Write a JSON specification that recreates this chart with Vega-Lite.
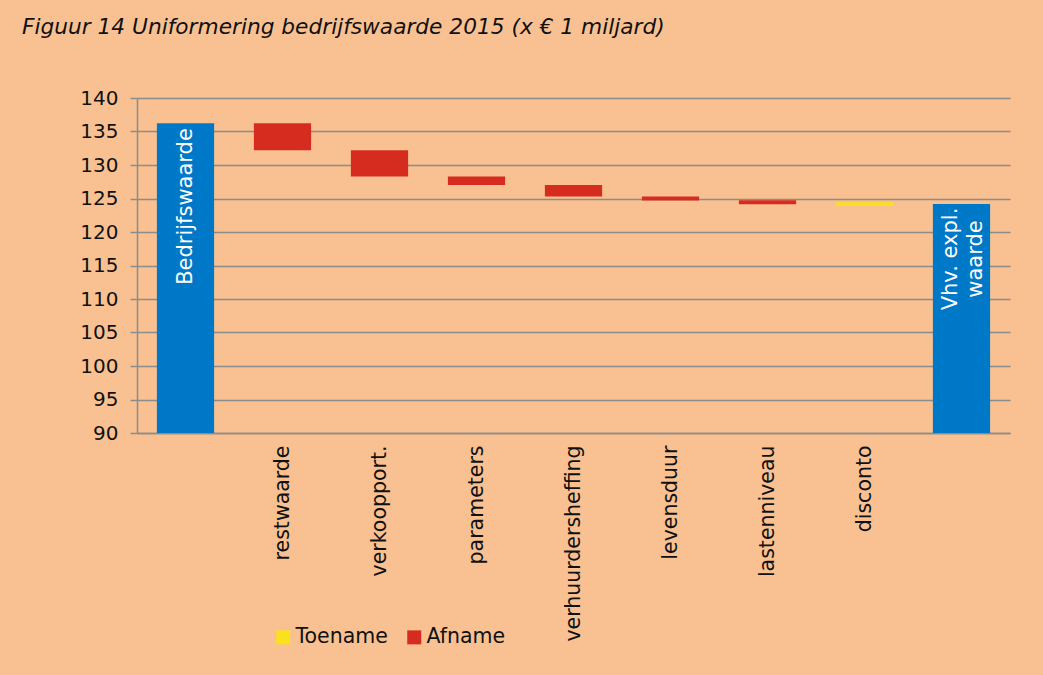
{
  "$schema": "https://vega.github.io/schema/vega-lite/v6.json",
  "width": 873,
  "height": 335,
  "autosize": {"type": "none"},
  "padding": {"left": 137, "top": 98, "right": 33, "bottom": 242},
  "background": "#F9C191",
  "title": {
    "text": "Figuur 14 Uniformering bedrijfswaarde 2015 (x € 1 miljard)",
    "anchor": "start",
    "frame": "group",
    "dx": -115,
    "offset": 32,
    "baseline": "alphabetic",
    "font": "DejaVu Sans",
    "fontSize": 21.7,
    "fontStyle": "italic",
    "fontWeight": "normal",
    "color": "#111111"
  },
  "config": {
    "view": {"stroke": null},
    "font": "DejaVu Sans",
    "axisY": {
      "title": null,
      "grid": true,
      "gridColor": "#8C8C8C",
      "gridWidth": 1.5,
      "domainColor": "#8C8C8C",
      "domainWidth": 1.5,
      "tickColor": "#8C8C8C",
      "tickWidth": 1.5,
      "tickSize": 7,
      "labelPadding": 12,
      "labelFont": "DejaVu Sans",
      "labelFontSize": 20,
      "labelColor": "#111111",
      "labelBaseline": "middle",
      "labelOverlap": false
    }
  },
  "data": {
    "values": [
      {"category": "Bedrijfswaarde", "label": "Bedrijfswaarde", "end": 136.25, "type": "total"},
      {"category": "restwaarde", "start": 136.25, "end": 132.2, "type": "Afname"},
      {"category": "verkoopport.", "start": 132.2, "end": 128.3, "type": "Afname"},
      {"category": "parameters", "start": 128.3, "end": 127.0, "type": "Afname"},
      {"category": "verhuurdersheffing", "start": 127.0, "end": 125.3, "type": "Afname"},
      {"category": "levensduur", "start": 125.3, "end": 124.72, "type": "Afname"},
      {"category": "lastenniveau", "start": 124.75, "end": 124.15, "type": "Afname"},
      {"category": "disconto", "start": 123.92, "end": 124.45, "type": "Toename"},
      {"category": "Vhv. expl. waarde", "label": "Vhv. expl.\nwaarde", "end": 124.18, "type": "total"}
    ]
  },
  "encoding": {
    "x": {
      "field": "category",
      "type": "nominal",
      "sort": ["Bedrijfswaarde", "restwaarde", "verkoopport.", "parameters", "verhuurdersheffing", "levensduur", "lastenniveau", "disconto", "Vhv. expl. waarde"],
      "scale": {"paddingInner": 0.41, "paddingOuter": 0.205},
      "axis": {
        "title": null,
        "labelAngle": -90,
        "labelAlign": "right",
        "labelBaseline": "middle",
        "ticks": false,
        "tickSize": 0,
        "labelPadding": 12,
        "domainColor": "#8C8C8C",
        "domainWidth": 1.5,
        "labelFont": "DejaVu Sans",
        "labelFontSize": 20.5,
        "labelColor": "#111111",
        "labelLimit": 300,
        "grid": false,
        "labelExpr": "datum.label == 'Bedrijfswaarde' || datum.label == 'Vhv. expl. waarde' ? '' : datum.label"
      }
    }
  },
  "layer": [
    {
      "transform": [{"filter": "datum.type == 'total'"}],
      "mark": {"type": "bar", "color": "#0078C8"},
      "encoding": {
        "y": {
          "field": "end",
          "type": "quantitative",
          "scale": {"domain": [90, 140], "nice": false, "zero": false},
          "axis": {"values": [90, 95, 100, 105, 110, 115, 120, 125, 130, 135, 140]}
        },
        "y2": {"datum": 90}
      }
    },
    {
      "transform": [{"filter": "datum.type != 'total'"}],
      "mark": {"type": "bar"},
      "encoding": {
        "y": {
          "field": "start",
          "type": "quantitative",
          "axis": {"values": [90, 95, 100, 105, 110, 115, 120, 125, 130, 135, 140]}
        },
        "y2": {"field": "end"},
        "color": {
          "field": "type",
          "type": "nominal",
          "scale": {"domain": ["Toename", "Afname"], "range": ["#F9E11E", "#D62B1F"]},
          "legend": {
            "title": null,
            "orient": "none",
            "legendX": 136,
            "legendY": 529,
            "direction": "horizontal",
            "columns": 2,
            "symbolType": "square",
            "symbolSize": 196,
            "symbolStrokeWidth": 0,
            "labelFont": "DejaVu Sans",
            "labelFontSize": 20.5,
            "labelColor": "#111111",
            "labelOffset": 2,
            "columnPadding": 16,
            "padding": 0
          }
        }
      }
    },
    {
      "transform": [{"filter": "datum.category == 'Bedrijfswaarde'"}],
      "mark": {"type": "text", "angle": 270, "align": "right", "baseline": "middle", "dx": -5, "color": "white", "font": "DejaVu Sans", "fontSize": 21},
      "encoding": {
        "y": {
          "field": "end",
          "type": "quantitative",
          "axis": {"values": [90, 95, 100, 105, 110, 115, 120, 125, 130, 135, 140]}
        },
        "text": {"field": "label"}
      }
    },
    {
      "transform": [{"filter": "datum.category == 'Vhv. expl. waarde'"}],
      "mark": {"type": "text", "angle": 270, "align": "center", "baseline": "middle", "dx": -55, "dy": -11, "lineBreak": "\n", "lineHeight": 25, "color": "white", "font": "DejaVu Sans", "fontSize": 21},
      "encoding": {
        "y": {
          "field": "end",
          "type": "quantitative",
          "axis": {"values": [90, 95, 100, 105, 110, 115, 120, 125, 130, 135, 140]}
        },
        "text": {"field": "label"}
      }
    }
  ]
}
